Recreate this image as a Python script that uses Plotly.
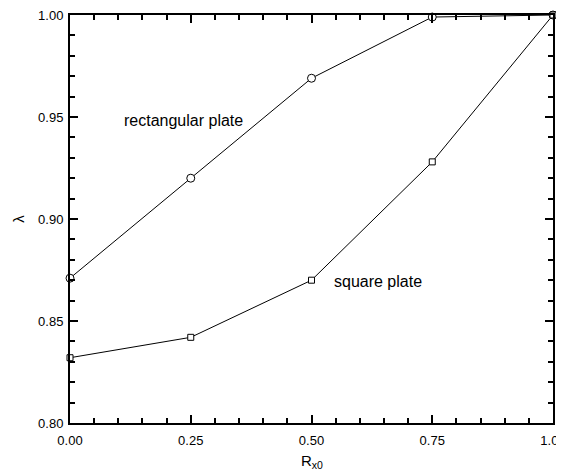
import plotly.graph_objects as go

rx0 = [0.00, 0.25, 0.50, 0.75, 1.00]
lambda_rect = [0.871, 0.920, 0.969, 0.999, 1.000]
lambda_square = [0.832, 0.842, 0.870, 0.928, 1.000]
x_ticks = [0.00, 0.25, 0.50, 0.75, 1.00]
x_tick_text = ["0.00", "0.25", "0.50", "0.75", "1.00"]
y_ticks = [0.80, 0.85, 0.90, 0.95, 1.00]
y_tick_text = ["0.80", "0.85", "0.90", "0.95", "1.00"]

FONT = "Liberation Sans, Arial, sans-serif"

fig = go.Figure()
fig.add_trace(go.Scatter(
    x=rx0, y=lambda_rect, mode="lines+markers",
    line=dict(color="black", width=1),
    marker=dict(symbol="circle", size=8, color="white", line=dict(color="black", width=1)),
    showlegend=False, cliponaxis=False))
fig.add_trace(go.Scatter(
    x=rx0, y=lambda_square, mode="lines+markers",
    line=dict(color="black", width=1),
    marker=dict(symbol="square", size=6, color="white", line=dict(color="black", width=1)),
    showlegend=False, cliponaxis=False))

fig.add_annotation(x=0.362, y=0.9485, text="rectangular plate", showarrow=False,
                   xref="x", yref="y", xanchor="right",
                   font=dict(family=FONT, size=16, color="black"))
fig.add_annotation(x=0.542, y=0.8696, text="square plate", showarrow=False,
                   xref="x", yref="y", xanchor="left",
                   font=dict(family=FONT, size=16, color="black"))
fig.add_annotation(x=0.5, y=0, xref="paper", yref="paper", yshift=-27,
                   text="R<sub>x0</sub>", showarrow=False, yanchor="top",
                   font=dict(family=FONT, size=15, color="black"))

axis_common = dict(
    showline=True, linecolor="black", linewidth=2, mirror="allticks",
    ticks="inside", ticklen=8, tickwidth=2, tickcolor="black",
    showgrid=False, zeroline=False, automargin=False,
    ticklabeloverflow="allow",
    tickfont=dict(family=FONT, size=13, color="black"),
)

fig.update_xaxes(range=[0, 1], tickvals=x_ticks, ticktext=x_tick_text,
                 minor=dict(dtick=0.05, ticks="inside", ticklen=5, tickwidth=2, tickcolor="black", showgrid=False),
                 ticklabelstandoff=4,
                 **axis_common)
fig.update_yaxes(range=[0.80, 1.00], tickvals=y_ticks, ticktext=y_tick_text,
                 minor=dict(dtick=0.01, ticks="inside", ticklen=5, tickwidth=2, tickcolor="black", showgrid=False),
                 ticklabelstandoff=2,
                 title=dict(text="λ", font=dict(family=FONT, size=15, color="black"), standoff=10),
                 **axis_common)

fig.update_layout(
    width=564, height=470,
    margin=dict(l=62, r=19, t=7, b=55),
    plot_bgcolor="white", paper_bgcolor="white",
    font=dict(family=FONT, color="black"),
)

fig.write_html("out.html")
